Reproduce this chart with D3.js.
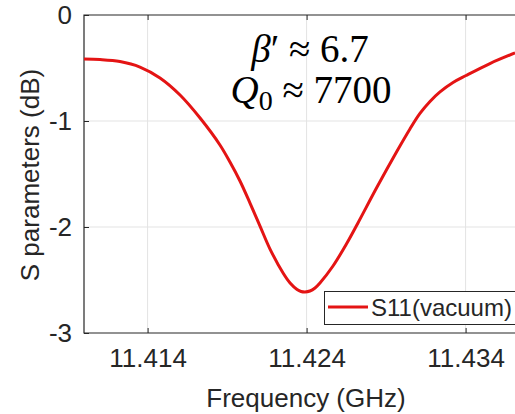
<!DOCTYPE html>
<html>
<head>
<meta charset="utf-8">
<script src="https://cdn.jsdelivr.net/npm/d3@7"></script>
<style>
  body { margin: 0; background: #fff; }
  svg { display: block; }
</style>
</head>
<body>
<div id="chart"></div>
<script>
// values
var freq = [11.41000, 11.41101, 11.41226, 11.41352, 11.41478, 11.41604, 11.41730, 11.41855,
            11.41918, 11.41981, 11.42044, 11.42107, 11.42170, 11.42252, 11.42296, 11.42340,
            11.42365, 11.42390, 11.42421, 11.42453, 11.42484, 11.42566, 11.42654, 11.42723,
            11.42843, 11.42969, 11.43050, 11.43113, 11.43176, 11.43239, 11.43321, 11.43403,
            11.43553, 11.43711];
var s11 = [-0.415, -0.420, -0.439, -0.491, -0.594, -0.755, -0.972, -1.226,
           -1.387, -1.566, -1.774, -1.991, -2.208, -2.434, -2.528, -2.589,
           -2.608, -2.613, -2.604, -2.575, -2.528, -2.368, -2.151, -1.962,
           -1.623, -1.283, -1.075, -0.929, -0.816, -0.726, -0.637, -0.571,
           -0.458, -0.358];
var xTicks = [11.414, 11.424, 11.434];
var yTicks = [-3, -2, -1, 0];
var seriesName = 'S11(vacuum)';

var W = 515, H = 414;
var mLeft = 84, mTop = 15, mBottom = 333;
var axisColor = '#262626';
var font = 'Arial, "Liberation Sans", Helvetica, sans-serif';

var svg = d3.select('#chart')
  .append('svg')
  .attr('width', W)
  .attr('height', H);

var x = d3.scaleLinear().domain([11.41, 11.44]).range([mLeft, mLeft + 477]);
var y = d3.scaleLinear().domain([-3, 0]).range([mBottom, mTop]);

// grid
svg.append('g')
  .selectAll('line')
  .data(xTicks)
  .enter()
  .append('line')
  .attr('x1', (d) => x(d)).attr('x2', (d) => x(d))
  .attr('y1', mTop).attr('y2', mBottom)
  .style('stroke', '#e3e3e3').style('stroke-width', 1);

svg.append('g')
  .selectAll('line')
  .data(yTicks.filter((d) => d > -3 && d < 0))
  .enter()
  .append('line')
  .attr('x1', mLeft).attr('x2', W)
  .attr('y1', (d) => y(d)).attr('y2', (d) => y(d))
  .style('stroke', '#e3e3e3').style('stroke-width', 1);

// axes
var xAxis = d3.axisBottom(x).tickValues(xTicks).tickSizeInner(-5).tickSizeOuter(0)
  .tickPadding(16).tickFormat(d3.format('.3f'));
var xAxisTop = d3.axisTop(x).tickValues(xTicks).tickSizeInner(-5).tickSizeOuter(0)
  .tickFormat('');
var yAxis = d3.axisLeft(y).tickValues(yTicks).tickSizeInner(-5).tickSizeOuter(0)
  .tickPadding(12).tickFormat((d) => d === 0 ? '0' : '-' + Math.abs(d));

var gx = svg.append('g')
  .attr('transform', 'translate(0,' + mBottom + ')')
  .call(xAxis);
var gxt = svg.append('g')
  .attr('transform', 'translate(0,' + mTop + ')')
  .call(xAxisTop);
var gy = svg.append('g')
  .attr('transform', 'translate(' + mLeft + ',0)')
  .call(yAxis);

[gx, gxt, gy].forEach(function(g) {
  g.select('.domain').remove();
  g.selectAll('line').style('stroke', axisColor);
  g.selectAll('text')
    .style('font-family', font)
    .style('font-size', '26px')
    .style('fill', axisColor);
});

// frame (top, left, bottom)
svg.append('path')
  .attr('d', 'M' + W + ',' + mTop + 'H' + mLeft + 'V' + mBottom + 'H' + W)
  .style('fill', 'none')
  .style('stroke', axisColor)
  .style('stroke-width', 1.2);

// curve
var line = d3.line()
  .x((d, i) => x(freq[i]))
  .y((d) => y(d))
  .curve(d3.curveCatmullRom);

svg.append('path')
  .datum(s11)
  .attr('d', line)
  .style('fill', 'none')
  .style('stroke', '#e41414')
  .style('stroke-width', 3);

// annotation
var ann = svg.append('text')
  .attr('text-anchor', 'middle')
  .style('font-family', '"Liberation Serif", "DejaVu Serif", serif')
  .style('font-size', '39px')
  .style('fill', '#000');
var l1 = ann.append('tspan').attr('x', 310).attr('y', 62);
l1.append('tspan').style('font-style', 'italic').text('\u03b2');
l1.append('tspan').text('\u2032 \u2248 6.7');
var l2 = ann.append('tspan').attr('x', 311).attr('y', 103);
l2.append('tspan').style('font-style', 'italic').text('Q');
l2.append('tspan').attr('dy', 7).style('font-size', '28px').text('0');
l2.append('tspan').attr('dy', -7).text(' \u2248 7700');

// legend
var lg = svg.append('g');
lg.append('rect')
  .attr('x', 324.5).attr('y', 291.5)
  .attr('width', 220).attr('height', 33)
  .style('fill', '#fff')
  .style('stroke', axisColor)
  .style('stroke-width', 1);
lg.append('line')
  .attr('x1', 328).attr('x2', 368)
  .attr('y1', 307).attr('y2', 307)
  .style('stroke', '#e41414')
  .style('stroke-width', 3);
lg.append('text')
  .attr('x', 371).attr('y', 316)
  .style('font-family', font)
  .style('font-size', '24px')
  .style('fill', axisColor)
  .text(seriesName);

// axis labels
svg.append('text')
  .attr('x', 306).attr('y', 407)
  .attr('text-anchor', 'middle')
  .style('font-family', font)
  .style('font-size', '26px')
  .style('fill', axisColor)
  .text('Frequency (GHz)');

svg.append('text')
  .attr('transform', 'translate(39,175) rotate(-90)')
  .attr('text-anchor', 'middle')
  .style('font-family', font)
  .style('font-size', '26px')
  .style('fill', axisColor)
  .text('S parameters (dB)');
</script>
</body>
</html>
